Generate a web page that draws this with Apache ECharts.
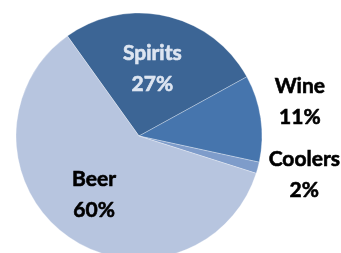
<!DOCTYPE html>
<html>
<head>
<meta charset="utf-8">
<style>
  html, body { margin: 0; padding: 0; background: #fff; }
  #chart { width: 341px; height: 253px; }
</style>
<script src="https://cdn.jsdelivr.net/npm/echarts@6/dist/echarts.min.js"></script>
</head>
<body>
<div id="chart"></div>
<script>
// drink categories, clockwise from the top-left
const categories = ['Spirits', 'Wine', 'Coolers', 'Beer'];
// shares (labels round them)
const shares = [26.9, 11.4, 1.5, 60.2];
const sliceColors = ['#3c6595', '#4675ad', '#7e9cca', '#b7c5df'];
const labelColors = ['#dde5f1', '#000', '#000', '#000'];
// nudge labels from their default inside spot
const labelOffsets = [[-1, -4], [97, -25], [103, 22], [-7, 7]];

const chart = echarts.init(document.getElementById('chart'), null, { renderer: 'canvas' });

const option = {
  animation: false,
  series: [{
    type: 'pie',
    center: [139, 136],
    radius: 123,
    startAngle: 125.6,
    clockwise: true,
    percentPrecision: 0,
    silent: true,
    itemStyle: {
      borderColor: 'rgba(255,255,255,0.6)',
      borderWidth: 0.5,
    },
    label: {
      position: 'inside',
      formatter: '{b}\n{d}%',
      fontFamily: 'Lato',
      fontWeight: 'bold',
      fontSize: 21,
      lineHeight: 31,
      align: 'center',
    },
    labelLine: { show: false },
    data: categories.map((name, i) => ({
      name,
      value: shares[i],
      itemStyle: { color: sliceColors[i] },
      label: {
        color: labelColors[i],
        // thicken the glyphs a touch, closer to the heavy original face
        textBorderColor: labelColors[i],
        textBorderWidth: 0.6,
        offset: labelOffsets[i],
      },
    })),
  }],
};
chart.setOption(option);
</script>
</body>
</html>
